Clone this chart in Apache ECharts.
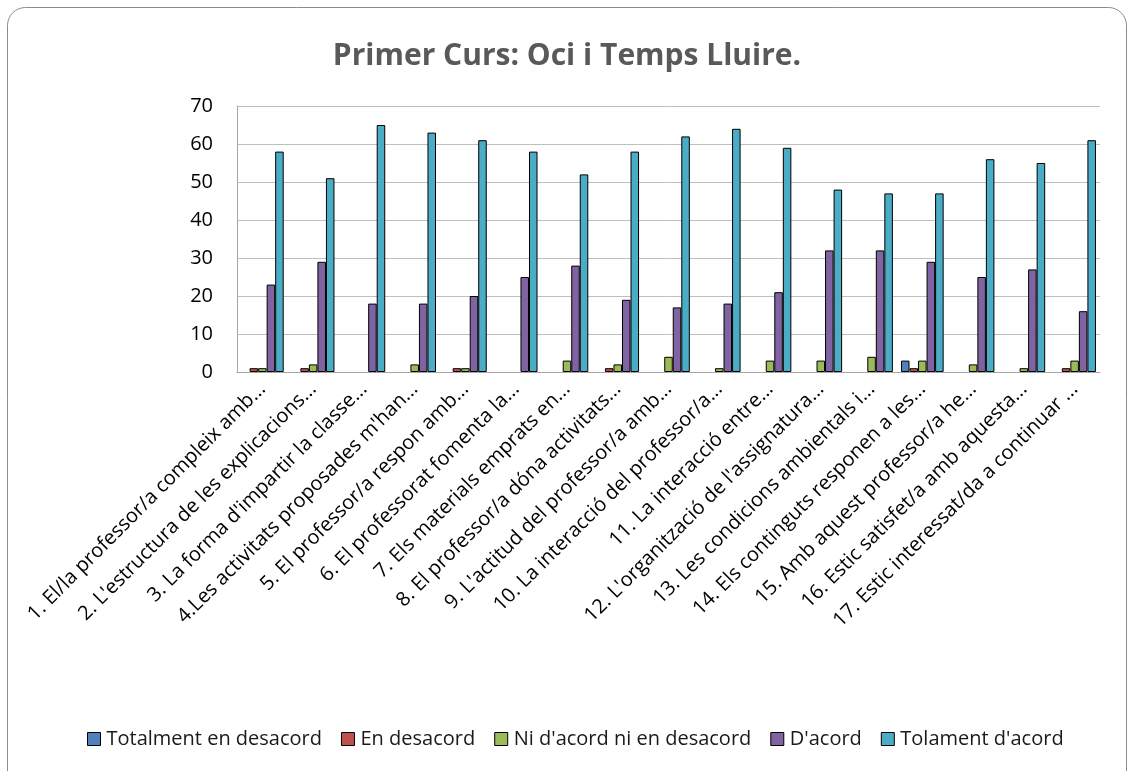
<!doctype html>
<html>
	<head>
		<meta charset="utf-8">
		<title>Primer Curs: Oci i Temps Lluire.</title>
		<style>
			html, body { margin: 0; padding: 0; background: #fff; }
			#main { width: 1134px; height: 771px; }
		</style>
	</head>
	<body>
		<div id="main"></div>
		<script src="https://cdn.jsdelivr.net/npm/echarts@6/dist/echarts.min.js"></script>
		<script type="text/javascript">
			// categories (as shown, truncated in the original)
			var categories = [
				"1. El/la professor/a compleix amb...",
				"2. L'estructura de les explicacions...",
				"3. La forma d'impartir la classe...",
				"4.Les activitats proposades m'han...",
				"5. El professor/a respon amb...",
				"6. El professorat fomenta la...",
				"7. Els materials emprats en...",
				"8. El professor/a dóna activitats...",
				"9. L'actitud del professor/a amb...",
				"10. La interacció del professor/a...",
				"11. La interacció entre...",
				"12. L'organització de l'assignatura...",
				"13. Les condicions ambientals i...",
				"14. Els continguts responen a les...",
				"15. Amb aquest professor/a he...",
				"16. Estic satisfet/a amb aquesta...",
				"17. Estic interessat/da a continuar ..."
			];

			var seriesNames = ["Totalment en desacord", "En desacord", "Ni d'acord ni en desacord", "D'acord", "Tolament d'acord"];

			var totalmentDesacord = [0, 0, 0, 0, 0, 0, 0, 0, 0, 0, 0, 0, 0, 3, 0, 0, 0];
			var enDesacord = [1, 1, 0, 0, 1, 0, 0, 1, 0, 0, 0, 0, 0, 1, 0, 0, 1];
			var niAcord = [1, 2, 0, 2, 1, 0, 3, 2, 4, 1, 3, 3, 4, 3, 2, 1, 3];
			var dAcord = [23, 29, 18, 18, 20, 25, 28, 19, 17, 18, 21, 32, 32, 29, 25, 27, 16];
			var tolamentAcord = [58, 51, 65, 63, 61, 58, 52, 58, 62, 64, 59, 48, 47, 47, 56, 55, 61];

			var colors = ['#4F81BD', '#C0504D', '#9BBB59', '#8064A2', '#4BACC6'];
			var allData = [totalmentDesacord, enDesacord, niAcord, dAcord, tolamentAcord];

			var font = 'Open Sans';

			var series = [];
			for (var i = 0; i < seriesNames.length; i++) {
				series.push({
					name: seriesNames[i],
					type: 'bar',
					// zero values are not drawn in the original
					data: allData[i].map(function(v) { return v === 0 ? '-' : v; }),
					barGap: '0%',
					barCategoryGap: '16%',
					itemStyle: { color: colors[i], borderColor: '#000', borderWidth: 1 },
					emphasis: { disabled: true }
				});
			}

			var myChart = echarts.init(document.getElementById('main'));
			var option = {
				animation: false,
				color: colors,
				graphic: [{
					type: 'rect',
					shape: { x: 7.5, y: 7.5, width: 1119, height: 790, r: 18 },
					style: { fill: 'none', stroke: '#8c8c8c', lineWidth: 1 },
					silent: true
				}],
				title: {
					text: 'Primer Curs: Oci i Temps Lluire.',
					left: 'center',
					top: 36,
					textStyle: { fontFamily: font, fontSize: 30, fontWeight: 'bold', color: '#595959' }
				},
				legend: {
					bottom: 17,
					left: 82,
					itemWidth: 13,
					itemHeight: 13,
					itemGap: 19,
					icon: 'rect',
					itemStyle: { borderColor: '#000', borderWidth: 1 },
					textStyle: { fontFamily: font, fontSize: 20, color: '#1a1a1a', padding: [0, 0, 0, 1] },
					data: seriesNames
				},
				grid: { left: 237, right: 34, top: 106, bottom: 399 },
				xAxis: {
					type: 'category',
					data: categories,
					axisLine: { lineStyle: { color: '#a6a6a6' } },
					axisTick: { show: false },
					axisLabel: {
						interval: 0,
						rotate: 45,
						margin: 14,
						fontFamily: font,
						fontSize: 20,
						color: '#000'
					}
				},
				yAxis: {
					type: 'value',
					min: 0,
					max: 70,
					interval: 10,
					axisLine: { show: true, lineStyle: { color: '#a6a6a6' } },
					axisTick: { show: false },
					splitLine: { lineStyle: { color: '#bfbfbf' } },
					axisLabel: { fontFamily: font, fontSize: 20, color: '#000', margin: 24 }
				},
				series: series
			};
			myChart.setOption(option);
		</script>
	</body>
</html>
